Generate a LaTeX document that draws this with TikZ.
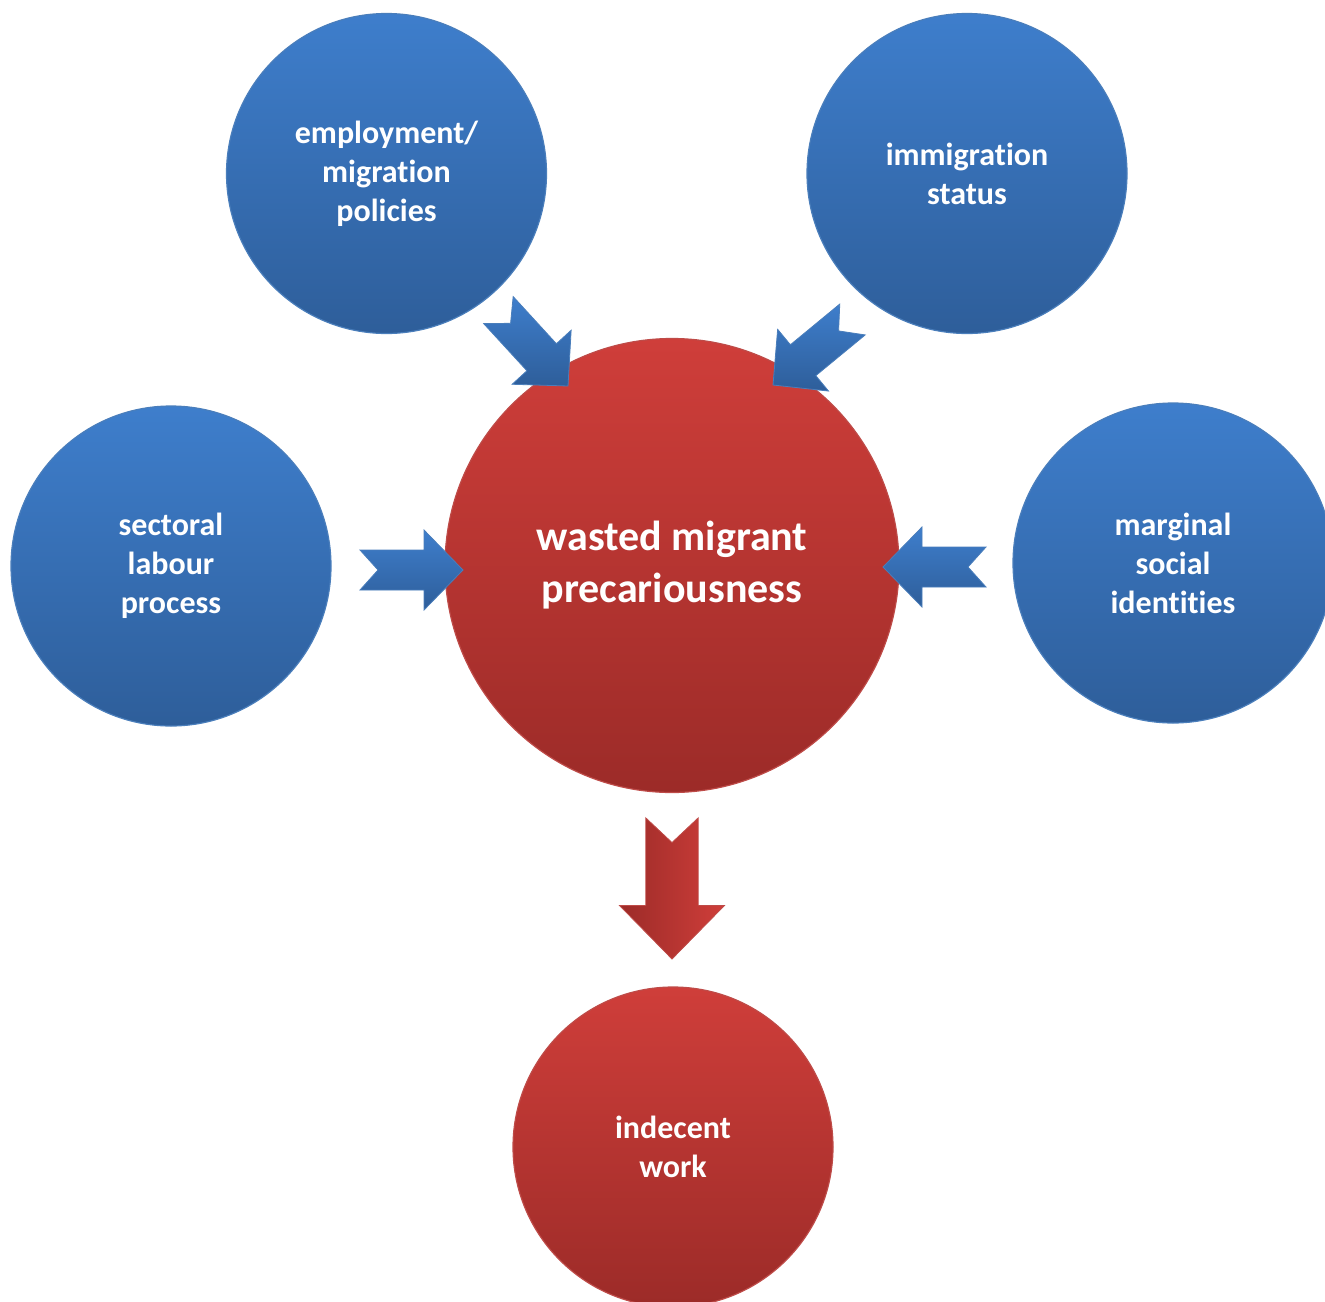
\documentclass[tikz,border=0pt]{standalone}
\usepackage{fontspec}
\setmainfont{Carlito}[Ligatures={NoCommon}]
\newcommand{\nl}{\kern0pt }
\definecolor{blueTop}{RGB}{62,126,204}
\definecolor{blueBot}{RGB}{46,94,154}
\definecolor{blueEdge}{RGB}{74,126,187}
\definecolor{redTop}{RGB}{207,62,58}
\definecolor{redBot}{RGB}{156,43,40}
\definecolor{redEdge}{RGB}{190,75,72}
\tikzset{
  x=1pt, y=1pt,
  bluecirc/.style={circle, minimum size=320pt, inner sep=0pt, top color=blueTop, bottom color=blueBot,
    draw=blueEdge, line width=1.2pt, text=white, align=center, font=\fontsize{32}{39}\selectfont\bfseries},
  redcirc/.style={circle, minimum size=320pt, inner sep=0pt, top color=redTop, bottom color=redBot,
    draw=redEdge, line width=1.2pt, text=white, align=center, font=\fontsize{32}{39}\selectfont\bfseries},
  bigred/.style={redcirc, minimum size=454pt, font=\fontsize{42}{52}\selectfont\bfseries},
  bluearrow/.style={top color=blueTop, bottom color=blueBot, draw=blueEdge, line width=0.8pt, line join=miter},
  redarrow/.style={left color=redBot, right color=redTop, draw=redEdge, line width=0.8pt, line join=miter},
  blkarrow/.pic={\path[#1] (0,0) -- (-39,40) -- (-39,20) -- (-103,20) -- (-85,0) -- (-103,-20) -- (-39,-20) -- (-39,-40) -- cycle;}
}
\begin{document}
\begin{tikzpicture}
\useasboundingbox (0,0) rectangle (1325,-1301);
\clip (0,0) rectangle (1325,-1301);
\node[bluecirc] (emp) at (386.5,-173.5) {employment/\\migrat\nl ion\\policies};
\node[bluecirc] (imm) at (967,-173.5) {immigrat\nl ion\\status};
\node[bluecirc] (sec) at (171,-566) {sectoral\\labour\\process};
\node[bluecirc] (mar) at (1173,-563) {marginal\\social\\ident\nl it\nl ies};
\node[bigred] (cen) at (672,-565.5) {wasted migrant\\precariousness};
\node[redcirc] (ind) at (673,-1147) {indecent\\work};
% block arrows (tips named)
\coordinate (tipSec) at (463,-570);
\coordinate (tipMar) at (883,-567);
\coordinate (tipEmp) at (568,-386);
\coordinate (tipImm) at (773,-385);
\coordinate (tipInd) at (672,-959);
\pic[rotate=0] at (tipSec) {blkarrow=bluearrow};
\pic[rotate=180] at (tipMar) {blkarrow=bluearrow};
\pic[rotate=-47.5] at (tipEmp) {blkarrow=bluearrow};
\pic[rotate=-140.5] at (tipImm) {blkarrow=bluearrow};
\pic[rotate=-90, xscale=1.37, yscale=1.31] at (tipInd) {blkarrow=redarrow};
\end{tikzpicture}
\end{document}
